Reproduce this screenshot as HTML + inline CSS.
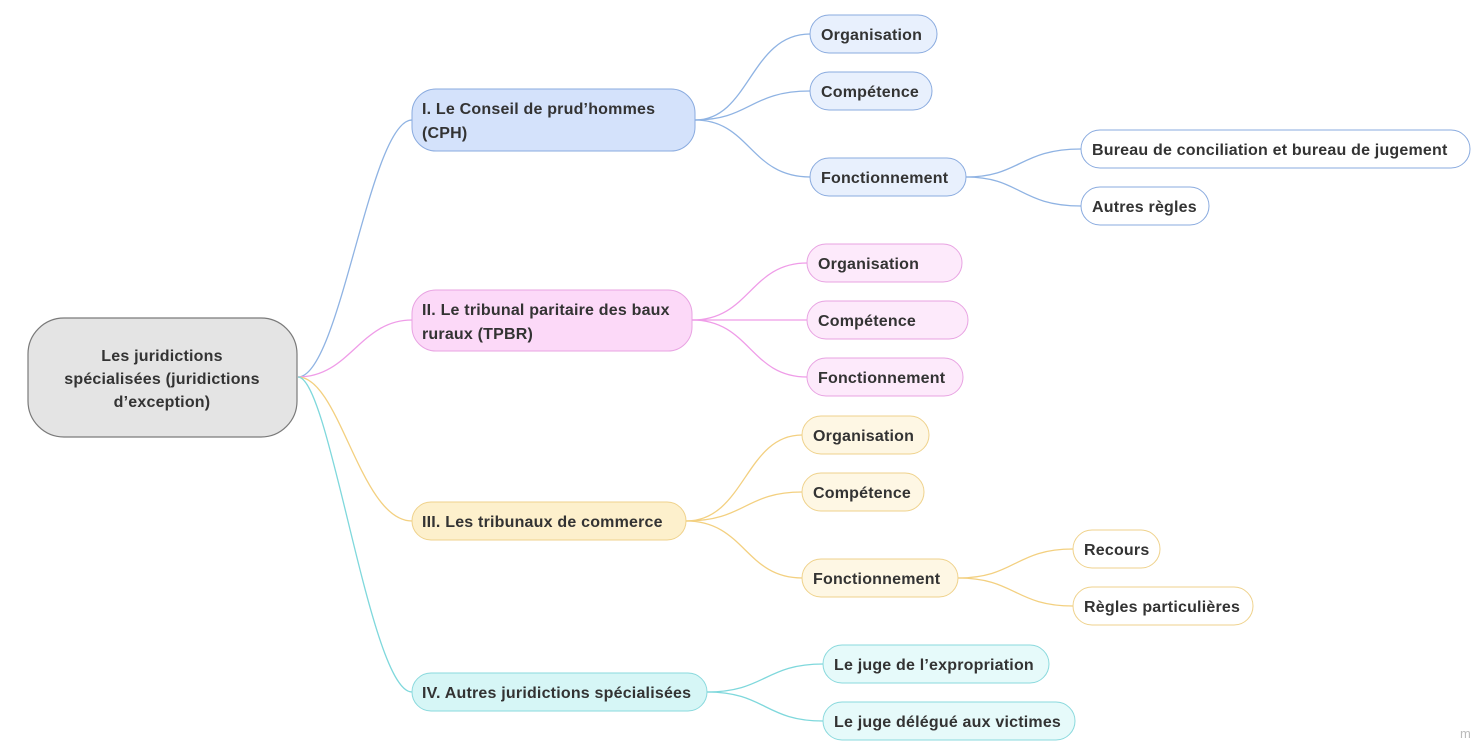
<!DOCTYPE html>
<html><head><meta charset="utf-8"><style>
html,body{margin:0;padding:0;background:#fff;}
svg{display:block;}
text{font-family:"Liberation Sans",sans-serif;font-weight:bold;font-size:16px;letter-spacing:0.2px;fill:#333;}
</style></head><body>
<svg width="1475" height="754" viewBox="0 0 1475 754" xmlns="http://www.w3.org/2000/svg">
<g fill="none" stroke-width="1.3">
<path d="M298 377 C340 377 370 120 412 120" stroke="#8fb3e3"/>
<path d="M298 377 C350 377 360 320 412 320" stroke="#ef9ce8"/>
<path d="M298 377 C340 377 360 521 412 521" stroke="#f3d080"/>
<path d="M298 377 C330 377 370 692 412 692" stroke="#7fd8dc"/>
<path d="M695 120 C750 120 750 34 810 34" stroke="#8fb3e3"/>
<path d="M695 120 C750 120 750 91 810 91" stroke="#8fb3e3"/>
<path d="M695 120 C750 120 750 177 810 177" stroke="#8fb3e3"/>
<path d="M966 177 C1020 177 1020 149 1081 149" stroke="#8fb3e3"/>
<path d="M966 177 C1020 177 1020 206 1081 206" stroke="#8fb3e3"/>
<path d="M692 320 C750 320 750 263 807 263" stroke="#ef9ce8"/>
<path d="M692 320 C750 320 750 320 807 320" stroke="#ef9ce8"/>
<path d="M692 320 C750 320 750 377 807 377" stroke="#ef9ce8"/>
<path d="M686 521 C745 521 745 435 802 435" stroke="#f3d080"/>
<path d="M686 521 C745 521 745 492 802 492" stroke="#f3d080"/>
<path d="M686 521 C745 521 745 578 802 578" stroke="#f3d080"/>
<path d="M958 578 C1015 578 1015 549 1073 549" stroke="#f3d080"/>
<path d="M958 578 C1015 578 1015 606 1073 606" stroke="#f3d080"/>
<path d="M707 692 C765 692 765 664 823 664" stroke="#7fd8dc"/>
<path d="M707 692 C765 692 765 721 823 721" stroke="#7fd8dc"/>
</g>
<rect x="28" y="318" width="269" height="119" rx="36" fill="#e4e4e4" stroke="#7a7a7a" stroke-width="1.2"/>
<text x="162" y="361" text-anchor="middle">Les juridictions</text>
<text x="162" y="384" text-anchor="middle">spécialisées (juridictions</text>
<text x="162" y="407" text-anchor="middle">d’exception)</text>
<rect x="412" y="89" width="283" height="62" rx="24" fill="#d4e2fb" stroke="#8aabdf"/>
<text x="422" y="114">I. Le Conseil de prud’hommes</text>
<text x="422" y="138">(CPH)</text>
<rect x="412" y="290" width="280" height="61" rx="24" fill="#fcd9f8" stroke="#e8a3e2"/>
<text x="422" y="315">II. Le tribunal paritaire des baux</text>
<text x="422" y="339">ruraux (TPBR)</text>
<rect x="412" y="502" width="274" height="38" rx="19" fill="#fdf0cc" stroke="#efd28c"/>
<text x="422" y="527">III. Les tribunaux de commerce</text>
<rect x="412" y="673" width="295" height="38" rx="19" fill="#d6f6f6" stroke="#8ad9dd"/>
<text x="422" y="698">IV. Autres juridictions spécialisées</text>
<g fill="#e8f0fd" stroke="#8aabdf">
<rect x="810" y="15" width="127" height="38" rx="19"/>
<rect x="810" y="72" width="122" height="38" rx="19"/>
<rect x="810" y="158" width="156" height="38" rx="19"/>
</g>
<g fill="#fff" stroke="#8aabdf">
<rect x="1081" y="130" width="389" height="38" rx="19"/>
<rect x="1081" y="187" width="128" height="38" rx="19"/>
</g>
<text x="821" y="40">Organisation</text>
<text x="821" y="97">Compétence</text>
<text x="821" y="183">Fonctionnement</text>
<text x="1092" y="155">Bureau de conciliation et bureau de jugement</text>
<text x="1092" y="212">Autres règles</text>
<g fill="#fdeafb" stroke="#e8a3e2">
<rect x="807" y="244" width="155" height="38" rx="19"/>
<rect x="807" y="301" width="161" height="38" rx="19"/>
<rect x="807" y="358" width="156" height="38" rx="19"/>
</g>
<text x="818" y="269">Organisation</text>
<text x="818" y="326">Compétence</text>
<text x="818" y="383">Fonctionnement</text>
<g fill="#fef7e4" stroke="#efd28c">
<rect x="802" y="416" width="127" height="38" rx="19"/>
<rect x="802" y="473" width="122" height="38" rx="19"/>
<rect x="802" y="559" width="156" height="38" rx="19"/>
</g>
<g fill="#fff" stroke="#efd28c">
<rect x="1073" y="530" width="87" height="38" rx="19"/>
<rect x="1073" y="587" width="180" height="38" rx="19"/>
</g>
<text x="813" y="441">Organisation</text>
<text x="813" y="498">Compétence</text>
<text x="813" y="584">Fonctionnement</text>
<text x="1084" y="555">Recours</text>
<text x="1084" y="612">Règles particulières</text>
<g fill="#e6fafa" stroke="#8ad9dd">
<rect x="823" y="645" width="226" height="38" rx="19"/>
<rect x="823" y="702" width="252" height="38" rx="19"/>
</g>
<text x="834" y="670">Le juge de l’expropriation</text>
<text x="834" y="727">Le juge délégué aux victimes</text>
<text x="1460" y="738" style="font-size:13px;fill:#bbb;font-weight:normal">m</text>
</svg>
</body></html>
